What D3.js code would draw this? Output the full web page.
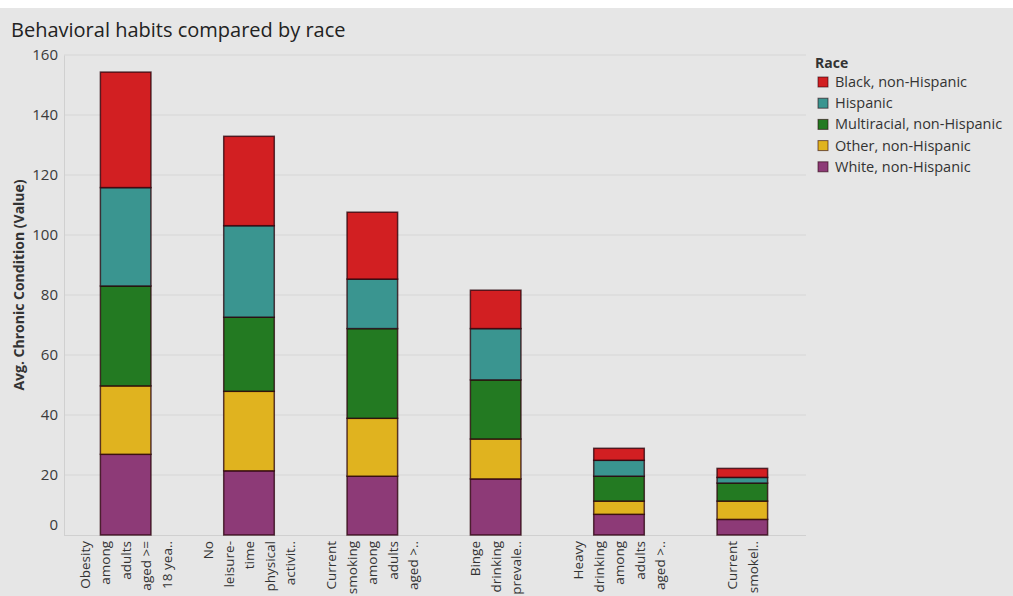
<!DOCTYPE html>
<html>
<head>
<meta charset="utf-8">
<script src="https://cdn.jsdelivr.net/npm/d3@7"></script>
<style>
  html, body { margin: 0; padding: 0; background: #ffffff; }
  svg { display: block; font-family: "Open Sans", "Noto Sans", sans-serif; }
</style>
</head>
<body>
<svg id="chart" width="1013" height="596"></svg>
<script>
// ---- data ----
const categories = [
  "Obesity among adults aged >= 18 years",
  "No leisure-time physical activity",
  "Current smoking among adults aged >= 18",
  "Binge drinking prevalence",
  "Heavy drinking among adults aged >= 18",
  "Current smokeless tobacco"
];
const categoryLabelLines = [
  ["Obesity", "among", "adults", "aged >=", "18 yea.."],
  ["No", "leisure-", "time", "physical", "activit.."],
  ["Current", "smoking", "among", "adults", "aged >.."],
  ["Binge", "drinking", "prevale.."],
  ["Heavy", "drinking", "among", "adults", "aged >.."],
  ["Current", "smokel.."]
];
const races = ["White, non-Hispanic", "Other, non-Hispanic", "Multiracial, non-Hispanic", "Hispanic", "Black, non-Hispanic"];
const legendOrder = ["Black, non-Hispanic", "Hispanic", "Multiracial, non-Hispanic", "Other, non-Hispanic", "White, non-Hispanic"];
const whiteValues       = [26.9, 21.4, 19.6, 18.7, 6.9, 5.2];
const otherValues       = [22.8, 26.5, 19.3, 13.3, 4.4, 6.1];
const multiracialValues = [33.3, 24.7, 29.9, 19.7, 8.3, 6.0];
const hispanicValues    = [32.8, 30.5, 16.5, 17.1, 5.3, 1.9];
const blackValues       = [38.5, 29.8, 22.3, 12.8, 4.0, 3.0];
const yTicks = [0, 20, 40, 60, 80, 100, 120, 140, 160];
const raceColors = ["#8d3a77", "#e0b31f", "#237a22", "#3a9590", "#d21f22"];

// ---- build table ----
const seriesValues = [whiteValues, otherValues, multiracialValues, hispanicValues, blackValues];
const table = categories.map((c, i) => {
  const row = { category: c };
  races.forEach((r, k) => { row[r] = seriesValues[k][i]; });
  return row;
});
const stacked = d3.stack().keys(races)(table);

// ---- layout ----
const svg = d3.select("#chart");
const plot = { left: 64, right: 804, top: 55, bottom: 535 };

svg.append("rect").attr("x", 0).attr("y", 8).attr("width", 1013).attr("height", 588).attr("fill", "#e6e6e6");

const x = d3.scaleBand().domain(categories).range([plot.left, plot.right]).paddingInner(0.59).paddingOuter(0.295);
const y = d3.scaleLinear().domain([0, 160]).range([plot.bottom, plot.top]);
const color = d3.scaleOrdinal().domain(races).range(raceColors);

// title
svg.append("text").attr("x", 11).attr("y", 37).attr("font-size", 20).attr("fill", "#222")
  .text("Behavioral habits compared by race");

// gridlines
svg.append("g").selectAll("line").data(yTicks.filter(t => t > 0)).join("line")
  .attr("x1", plot.left).attr("x2", plot.right + 2)
  .attr("y1", d => y(d)).attr("y2", d => y(d))
  .attr("stroke", "#d6d6d6").attr("stroke-width", 1);

// y axis
const yAxis = svg.append("g").attr("transform", `translate(${plot.left},0)`)
  .call(d3.axisLeft(y).tickValues(yTicks).tickSize(0).tickPadding(6));
yAxis.select(".domain").attr("stroke", "#d0d0d0");
yAxis.selectAll("text").attr("font-size", 15).attr("fill", "#3a3a3a")
  .attr("font-family", "'Open Sans', 'Noto Sans', sans-serif")
  .attr("dy", d => d === 0 ? "-0.35em" : "0.32em");

// baseline
svg.append("line").attr("x1", plot.left).attr("x2", plot.right + 2)
  .attr("y1", plot.bottom + 0.5).attr("y2", plot.bottom + 0.5).attr("stroke", "#d0d0d0");

// y axis title
svg.append("text").attr("transform", `translate(24,285) rotate(-90)`)
  .attr("text-anchor", "middle").attr("font-size", 14).attr("font-weight", "bold").attr("fill", "#333")
  .text("Avg. Chronic Condition (Value)");

// bars
svg.append("g").selectAll("g").data(stacked).join("g")
  .attr("fill", d => color(d.key))
  .selectAll("rect").data(d => d).join("rect")
  .attr("x", d => x(d.data.category))
  .attr("width", x.bandwidth())
  .attr("y", d => y(d[1]))
  .attr("height", d => y(d[0]) - y(d[1]))
  .attr("stroke", "rgba(40,0,10,0.75)")
  .attr("stroke-width", 1.5);

// x labels (rotated, multi-line)
const lineGap = 20.5;
const xl = svg.append("g");
categories.forEach((c, i) => {
  const lines = categoryLabelLines[i];
  const cx = x(c) + x.bandwidth() / 2;
  lines.forEach((ln, j) => {
    const lx = cx + (j - (lines.length - 1) / 2) * lineGap;
    xl.append("text")
      .attr("transform", `translate(${lx + 5},${plot.bottom + 6}) rotate(-90)`)
      .attr("text-anchor", "end").attr("font-size", 13.5).attr("fill", "#333")
      .text(ln);
  });
});

// legend
const lg = svg.append("g").attr("transform", "translate(815,0)");
lg.append("text").attr("x", 0).attr("y", 68).attr("font-size", 14).attr("font-weight", "bold").attr("fill", "#333").text("Race");
legendOrder.forEach((r, i) => {
  const cy = 82 + i * 21.2;
  lg.append("rect").attr("x", 3).attr("y", cy - 5).attr("width", 10).attr("height", 10)
    .attr("fill", color(r)).attr("stroke", "rgba(40,0,10,0.6)").attr("stroke-width", 1);
  lg.append("text").attr("x", 20).attr("y", cy + 5).attr("font-size", 14.5).attr("fill", "#333").text(r);
});
</script>
</body>
</html>
